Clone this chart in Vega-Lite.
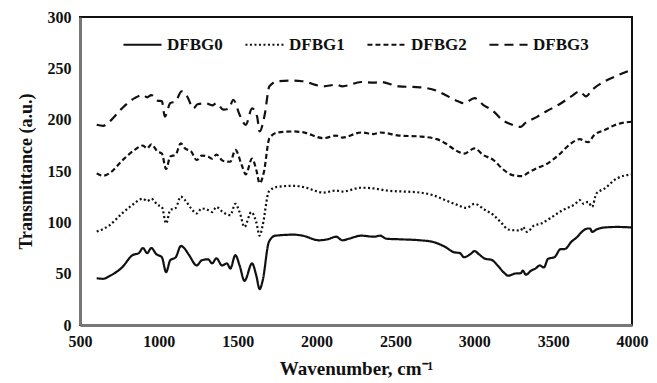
{
  "$schema": "https://vega.github.io/schema/vega-lite/v6.json",
  "width": 552,
  "height": 308,
  "autosize": "none",
  "padding": {"left": 80, "top": 17, "right": 25, "bottom": 58},
  "background": "white",
  "config": {
    "font": "Liberation Serif",
    "view": {"stroke": "#111", "strokeWidth": 2},
    "axis": {"labelFont": "Liberation Serif", "titleFont": "Liberation Serif", "labelFontWeight": "bold", "titleFontWeight": "bold", "labelColor": "#111", "titleColor": "#111", "grid": false, "ticks": false, "domainColor": "#777", "domainWidth": 3, "labelFlush": false}
  },
  "datasets": {
    "d": [
      {"s":"DFBG0","x":606,"y":45.6},{"s":"DFBG0","x":646,"y":45},{"s":"DFBG0","x":686,"y":47.6},{"s":"DFBG0","x":766,"y":56},{"s":"DFBG0","x":833,"y":68},{"s":"DFBG0","x":873,"y":70},{"s":"DFBG0","x":899,"y":75},{"s":"DFBG0","x":926,"y":70},{"s":"DFBG0","x":952,"y":75},{"s":"DFBG0","x":984,"y":69},{"s":"DFBG0","x":1019,"y":66},{"s":"DFBG0","x":1046,"y":51.5},{"s":"DFBG0","x":1072,"y":63},{"s":"DFBG0","x":1107,"y":66},{"s":"DFBG0","x":1140,"y":77},{"s":"DFBG0","x":1160,"y":75},{"s":"DFBG0","x":1192,"y":68},{"s":"DFBG0","x":1240,"y":58},{"s":"DFBG0","x":1272,"y":63},{"s":"DFBG0","x":1312,"y":64},{"s":"DFBG0","x":1338,"y":60},{"s":"DFBG0","x":1365,"y":65},{"s":"DFBG0","x":1400,"y":58},{"s":"DFBG0","x":1432,"y":60},{"s":"DFBG0","x":1453,"y":55},{"s":"DFBG0","x":1485,"y":68},{"s":"DFBG0","x":1512,"y":58},{"s":"DFBG0","x":1543,"y":43},{"s":"DFBG0","x":1591,"y":60},{"s":"DFBG0","x":1618,"y":48},{"s":"DFBG0","x":1639,"y":35},{"s":"DFBG0","x":1658,"y":43},{"s":"DFBG0","x":1698,"y":81},{"s":"DFBG0","x":1738,"y":87},{"s":"DFBG0","x":1857,"y":88},{"s":"DFBG0","x":1911,"y":87},{"s":"DFBG0","x":2017,"y":82.5},{"s":"DFBG0","x":2070,"y":83.5},{"s":"DFBG0","x":2124,"y":86},{"s":"DFBG0","x":2164,"y":82.5},{"s":"DFBG0","x":2204,"y":84},{"s":"DFBG0","x":2283,"y":87},{"s":"DFBG0","x":2363,"y":86},{"s":"DFBG0","x":2403,"y":87},{"s":"DFBG0","x":2443,"y":84},{"s":"DFBG0","x":2523,"y":83.5},{"s":"DFBG0","x":2656,"y":82.5},{"s":"DFBG0","x":2736,"y":81},{"s":"DFBG0","x":2816,"y":76},{"s":"DFBG0","x":2869,"y":71},{"s":"DFBG0","x":2909,"y":70},{"s":"DFBG0","x":2935,"y":66},{"s":"DFBG0","x":2975,"y":69},{"s":"DFBG0","x":3002,"y":72},{"s":"DFBG0","x":3029,"y":69},{"s":"DFBG0","x":3069,"y":64.5},{"s":"DFBG0","x":3109,"y":63.5},{"s":"DFBG0","x":3148,"y":58},{"s":"DFBG0","x":3188,"y":51},{"s":"DFBG0","x":3215,"y":48},{"s":"DFBG0","x":3255,"y":50},{"s":"DFBG0","x":3295,"y":50.5},{"s":"DFBG0","x":3308,"y":53},{"s":"DFBG0","x":3327,"y":49},{"s":"DFBG0","x":3361,"y":53},{"s":"DFBG0","x":3388,"y":55},{"s":"DFBG0","x":3415,"y":58},{"s":"DFBG0","x":3441,"y":56},{"s":"DFBG0","x":3468,"y":64.5},{"s":"DFBG0","x":3508,"y":66},{"s":"DFBG0","x":3548,"y":74},{"s":"DFBG0","x":3574,"y":74},{"s":"DFBG0","x":3615,"y":81},{"s":"DFBG0","x":3654,"y":86},{"s":"DFBG0","x":3681,"y":90.6},{"s":"DFBG0","x":3721,"y":94},{"s":"DFBG0","x":3734,"y":94},{"s":"DFBG0","x":3747,"y":90.6},{"s":"DFBG0","x":3774,"y":93},{"s":"DFBG0","x":3827,"y":95},{"s":"DFBG0","x":3907,"y":95.5},{"s":"DFBG0","x":4000,"y":95},

      {"s":"DFBG1","x":606,"y":91},{"s":"DFBG1","x":686,"y":97},{"s":"DFBG1","x":766,"y":108.6},{"s":"DFBG1","x":833,"y":117},{"s":"DFBG1","x":899,"y":123},{"s":"DFBG1","x":926,"y":120.6},{"s":"DFBG1","x":952,"y":123},{"s":"DFBG1","x":992,"y":117},{"s":"DFBG1","x":1019,"y":115},{"s":"DFBG1","x":1046,"y":99},{"s":"DFBG1","x":1072,"y":112},{"s":"DFBG1","x":1107,"y":114},{"s":"DFBG1","x":1139,"y":125},{"s":"DFBG1","x":1166,"y":121.6},{"s":"DFBG1","x":1205,"y":113.5},{"s":"DFBG1","x":1240,"y":108.6},{"s":"DFBG1","x":1272,"y":113.5},{"s":"DFBG1","x":1312,"y":112},{"s":"DFBG1","x":1338,"y":110},{"s":"DFBG1","x":1365,"y":115},{"s":"DFBG1","x":1405,"y":110},{"s":"DFBG1","x":1453,"y":107},{"s":"DFBG1","x":1485,"y":118},{"s":"DFBG1","x":1512,"y":110},{"s":"DFBG1","x":1543,"y":95.5},{"s":"DFBG1","x":1586,"y":110},{"s":"DFBG1","x":1618,"y":100},{"s":"DFBG1","x":1639,"y":87},{"s":"DFBG1","x":1658,"y":97},{"s":"DFBG1","x":1698,"y":130},{"s":"DFBG1","x":1751,"y":134.6},{"s":"DFBG1","x":1857,"y":135.6},{"s":"DFBG1","x":1911,"y":134.6},{"s":"DFBG1","x":2044,"y":129},{"s":"DFBG1","x":2124,"y":131},{"s":"DFBG1","x":2164,"y":130},{"s":"DFBG1","x":2283,"y":133.7},{"s":"DFBG1","x":2363,"y":133},{"s":"DFBG1","x":2443,"y":131},{"s":"DFBG1","x":2656,"y":129},{"s":"DFBG1","x":2736,"y":126.5},{"s":"DFBG1","x":2816,"y":121.6},{"s":"DFBG1","x":2896,"y":116.7},{"s":"DFBG1","x":2949,"y":114},{"s":"DFBG1","x":3002,"y":118},{"s":"DFBG1","x":3069,"y":112},{"s":"DFBG1","x":3122,"y":107},{"s":"DFBG1","x":3175,"y":99},{"s":"DFBG1","x":3215,"y":93},{"s":"DFBG1","x":3295,"y":92},{"s":"DFBG1","x":3308,"y":95.5},{"s":"DFBG1","x":3335,"y":90.6},{"s":"DFBG1","x":3375,"y":96.5},{"s":"DFBG1","x":3428,"y":99},{"s":"DFBG1","x":3481,"y":104},{"s":"DFBG1","x":3561,"y":112},{"s":"DFBG1","x":3641,"y":118},{"s":"DFBG1","x":3668,"y":121.6},{"s":"DFBG1","x":3694,"y":118},{"s":"DFBG1","x":3721,"y":120},{"s":"DFBG1","x":3747,"y":115},{"s":"DFBG1","x":3774,"y":128},{"s":"DFBG1","x":3827,"y":133},{"s":"DFBG1","x":3907,"y":143},{"s":"DFBG1","x":4000,"y":146.7},

      {"s":"DFBG2","x":606,"y":147.7},{"s":"DFBG2","x":646,"y":145.4},{"s":"DFBG2","x":686,"y":147.7},{"s":"DFBG2","x":766,"y":160},{"s":"DFBG2","x":846,"y":170.5},{"s":"DFBG2","x":899,"y":174.8},{"s":"DFBG2","x":926,"y":172},{"s":"DFBG2","x":952,"y":176},{"s":"DFBG2","x":992,"y":169},{"s":"DFBG2","x":1019,"y":167},{"s":"DFBG2","x":1046,"y":152},{"s":"DFBG2","x":1072,"y":164},{"s":"DFBG2","x":1107,"y":166},{"s":"DFBG2","x":1139,"y":177},{"s":"DFBG2","x":1166,"y":172},{"s":"DFBG2","x":1205,"y":169},{"s":"DFBG2","x":1240,"y":160.7},{"s":"DFBG2","x":1272,"y":165},{"s":"DFBG2","x":1312,"y":164},{"s":"DFBG2","x":1338,"y":162},{"s":"DFBG2","x":1365,"y":166},{"s":"DFBG2","x":1405,"y":160},{"s":"DFBG2","x":1453,"y":159},{"s":"DFBG2","x":1485,"y":170.5},{"s":"DFBG2","x":1525,"y":156},{"s":"DFBG2","x":1551,"y":146.7},{"s":"DFBG2","x":1591,"y":162},{"s":"DFBG2","x":1618,"y":151},{"s":"DFBG2","x":1639,"y":138},{"s":"DFBG2","x":1666,"y":149},{"s":"DFBG2","x":1701,"y":182},{"s":"DFBG2","x":1754,"y":187.5},{"s":"DFBG2","x":1857,"y":188.5},{"s":"DFBG2","x":1911,"y":187.8},{"s":"DFBG2","x":2044,"y":182},{"s":"DFBG2","x":2124,"y":184.5},{"s":"DFBG2","x":2164,"y":182.6},{"s":"DFBG2","x":2283,"y":187.5},{"s":"DFBG2","x":2363,"y":186},{"s":"DFBG2","x":2403,"y":187.5},{"s":"DFBG2","x":2523,"y":184.5},{"s":"DFBG2","x":2656,"y":183.6},{"s":"DFBG2","x":2763,"y":181},{"s":"DFBG2","x":2816,"y":177},{"s":"DFBG2","x":2896,"y":169},{"s":"DFBG2","x":2935,"y":167},{"s":"DFBG2","x":3002,"y":172},{"s":"DFBG2","x":3056,"y":165.6},{"s":"DFBG2","x":3122,"y":160.7},{"s":"DFBG2","x":3175,"y":152.6},{"s":"DFBG2","x":3242,"y":146},{"s":"DFBG2","x":3308,"y":145},{"s":"DFBG2","x":3335,"y":147.7},{"s":"DFBG2","x":3401,"y":153},{"s":"DFBG2","x":3455,"y":156.5},{"s":"DFBG2","x":3535,"y":165.6},{"s":"DFBG2","x":3615,"y":177},{"s":"DFBG2","x":3668,"y":181},{"s":"DFBG2","x":3721,"y":178},{"s":"DFBG2","x":3760,"y":185},{"s":"DFBG2","x":3827,"y":190},{"s":"DFBG2","x":3907,"y":195.6},{"s":"DFBG2","x":4000,"y":198},

      {"s":"DFBG3","x":606,"y":195},{"s":"DFBG3","x":646,"y":194},{"s":"DFBG3","x":686,"y":198},{"s":"DFBG3","x":766,"y":211},{"s":"DFBG3","x":846,"y":221},{"s":"DFBG3","x":899,"y":224},{"s":"DFBG3","x":926,"y":221.7},{"s":"DFBG3","x":952,"y":224},{"s":"DFBG3","x":992,"y":218.5},{"s":"DFBG3","x":1019,"y":218},{"s":"DFBG3","x":1038,"y":203},{"s":"DFBG3","x":1072,"y":216},{"s":"DFBG3","x":1107,"y":218},{"s":"DFBG3","x":1144,"y":227.6},{"s":"DFBG3","x":1179,"y":222.7},{"s":"DFBG3","x":1219,"y":211},{"s":"DFBG3","x":1245,"y":215},{"s":"DFBG3","x":1299,"y":216},{"s":"DFBG3","x":1338,"y":214},{"s":"DFBG3","x":1365,"y":216},{"s":"DFBG3","x":1410,"y":209.7},{"s":"DFBG3","x":1445,"y":211},{"s":"DFBG3","x":1472,"y":219.4},{"s":"DFBG3","x":1512,"y":204.8},{"s":"DFBG3","x":1551,"y":195},{"s":"DFBG3","x":1591,"y":211},{"s":"DFBG3","x":1623,"y":203},{"s":"DFBG3","x":1639,"y":188.5},{"s":"DFBG3","x":1671,"y":204.8},{"s":"DFBG3","x":1701,"y":232.5},{"s":"DFBG3","x":1754,"y":237.4},{"s":"DFBG3","x":1857,"y":238},{"s":"DFBG3","x":1911,"y":237.4},{"s":"DFBG3","x":2044,"y":232.5},{"s":"DFBG3","x":2124,"y":234},{"s":"DFBG3","x":2164,"y":232.5},{"s":"DFBG3","x":2283,"y":236.7},{"s":"DFBG3","x":2363,"y":236},{"s":"DFBG3","x":2403,"y":236.7},{"s":"DFBG3","x":2523,"y":232.5},{"s":"DFBG3","x":2656,"y":231.5},{"s":"DFBG3","x":2763,"y":228},{"s":"DFBG3","x":2816,"y":224},{"s":"DFBG3","x":2896,"y":218},{"s":"DFBG3","x":2935,"y":216},{"s":"DFBG3","x":3002,"y":221},{"s":"DFBG3","x":3056,"y":214.5},{"s":"DFBG3","x":3122,"y":208},{"s":"DFBG3","x":3175,"y":200},{"s":"DFBG3","x":3242,"y":195},{"s":"DFBG3","x":3295,"y":193},{"s":"DFBG3","x":3322,"y":196.6},{"s":"DFBG3","x":3401,"y":203},{"s":"DFBG3","x":3455,"y":208},{"s":"DFBG3","x":3535,"y":214.5},{"s":"DFBG3","x":3615,"y":222.7},{"s":"DFBG3","x":3668,"y":227.6},{"s":"DFBG3","x":3708,"y":222.7},{"s":"DFBG3","x":3747,"y":229},{"s":"DFBG3","x":3827,"y":237.4},{"s":"DFBG3","x":3907,"y":243},{"s":"DFBG3","x":4000,"y":248.8}
    ]
  },
  "data": {"name": "d"},
  "mark": {"type": "line", "color": "#111", "strokeWidth": 2.2, "interpolate": "monotone"},
  "encoding": {
    "x": {"field": "x", "type": "quantitative", "scale": {"domain": [500, 4000], "nice": false},
      "axis": {"values": [500,1000,1500,2000,2500,3000,3500,4000], "title": "Wavenumber, cm⁻¹", "labelFontSize": 16, "titleFontSize": 19, "labelPadding": 8, "titlePadding": 10, "format": "d"}},
    "y": {"field": "y", "type": "quantitative", "scale": {"domain": [0, 300], "nice": false},
      "axis": {"values": [0,50,100,150,200,250,300], "title": "Transmittance (a.u.)", "labelFontSize": 16, "titleFontSize": 18, "labelPadding": 9, "titlePadding": 12}},
    "strokeDash": {"field": "s", "type": "nominal",
      "scale": {"domain": ["DFBG0","DFBG1","DFBG2","DFBG3"], "range": [[1,0],[2,2.5],[5,3],[9,6]]},
      "legend": {"title": null, "orient": "none", "direction": "horizontal", "legendX": 42, "legendY": 7, "symbolType": "stroke", "symbolSize": 1450, "symbolStrokeWidth": 2.2, "symbolStrokeColor": "#111", "labelFontSize": 17, "labelFontWeight": "bold", "labelFont": "Liberation Serif", "labelColor": "#111", "columnPadding": 18, "labelOffset": 4}}
  }
}
